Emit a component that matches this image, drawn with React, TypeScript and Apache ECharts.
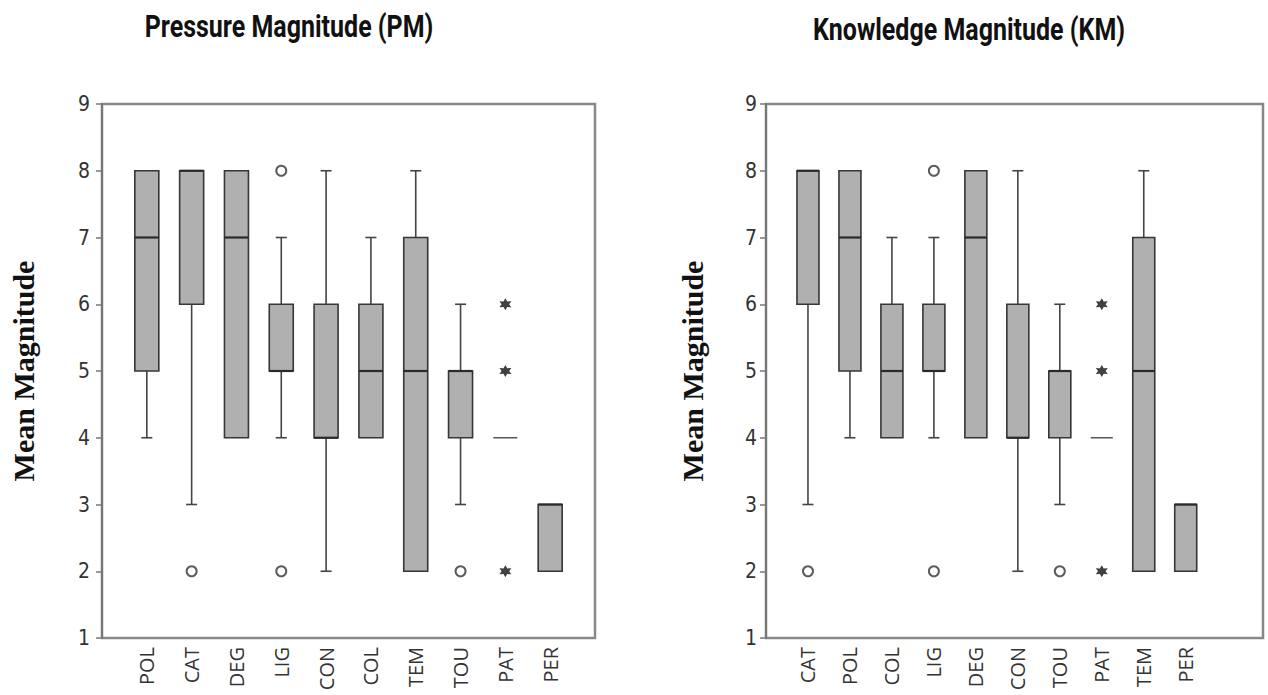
import React, { useEffect, useRef } from "react";
import * as echarts from "echarts";

// ---- Pressure Magnitude (PM) ----
const pmCategories = ["POL", "CAT", "DEG", "LIG", "CON", "COL", "TEM", "TOU", "PAT", "PER"];
const pmMin = [4, 3, 4, 4, 2, 4, 2, 3, 4, 2];
const pmQ1 = [5, 6, 4, 5, 4, 4, 2, 4, 4, 2];
const pmMedian = [7, 8, 7, 5, 4, 5, 5, 5, 4, 3];
const pmQ3 = [8, 8, 8, 6, 6, 6, 7, 5, 4, 3];
const pmMax = [8, 8, 8, 7, 8, 7, 8, 6, 4, 3];
const pmOutliers: [string, number][] = [["CAT", 2], ["LIG", 8], ["LIG", 2], ["TOU", 2]];
const pmExtremes: [string, number][] = [["PAT", 6], ["PAT", 5], ["PAT", 2]];

// ---- Knowledge Magnitude (KM) ----
const kmCategories = ["CAT", "POL", "COL", "LIG", "DEG", "CON", "TOU", "PAT", "TEM", "PER"];
const kmMin = [3, 4, 4, 4, 4, 2, 3, 4, 2, 2];
const kmQ1 = [6, 5, 4, 5, 4, 4, 4, 4, 2, 2];
const kmMedian = [8, 7, 5, 5, 7, 4, 5, 4, 5, 3];
const kmQ3 = [8, 8, 6, 6, 8, 6, 5, 4, 7, 3];
const kmMax = [8, 8, 7, 7, 8, 8, 6, 4, 8, 3];
const kmOutliers: [string, number][] = [["CAT", 2], ["LIG", 8], ["LIG", 2], ["TOU", 2]];
const kmExtremes: [string, number][] = [["PAT", 6], ["PAT", 5], ["PAT", 2]];

const yTicks = [1, 2, 3, 4, 5, 6, 7, 8, 9];

const STAR =
  "path://M10,0 L12.75,5.24 L18.66,5 L15.5,10 L18.66,15 L12.75,14.76 L10,20 L7.25,14.76 L1.34,15 L4.5,10 L1.34,5 L7.25,5.24 Z";

function boxData(mins: number[], q1: number[], med: number[], q3: number[], max: number[]) {
  return mins.map((_, i) => [i + 1, mins[i], q1[i], med[i], q3[i], max[i]]);
}
function pointData(cats: string[], pts: [string, number][]) {
  return pts.map(([c, v]) => [cats.indexOf(c) + 1, v]);
}

function makeRender(boxW: number, capW: number) {
  return (_params: any, api: any) => {
    const x = api.value(0);
    const vMin = api.value(1), vQ1 = api.value(2), vMed = api.value(3), vQ3 = api.value(4), vMax = api.value(5);
    const pMin = api.coord([x, vMin]);
    const pQ1 = api.coord([x, vQ1]);
    const pMed = api.coord([x, vMed]);
    const pQ3 = api.coord([x, vQ3]);
    const pMax = api.coord([x, vMax]);
    const cx = pMin[0];
    const wStyle = { stroke: "#444", lineWidth: 1.6 };
    const children: any[] = [];
    if (vMax > vQ3) {
      children.push({ type: "line", shape: { x1: cx, y1: pQ3[1], x2: cx, y2: pMax[1] }, style: wStyle });
      children.push({ type: "line", shape: { x1: cx - capW / 2, y1: pMax[1], x2: cx + capW / 2, y2: pMax[1] }, style: wStyle });
    }
    if (vMin < vQ1) {
      children.push({ type: "line", shape: { x1: cx, y1: pQ1[1], x2: cx, y2: pMin[1] }, style: wStyle });
      children.push({ type: "line", shape: { x1: cx - capW / 2, y1: pMin[1], x2: cx + capW / 2, y2: pMin[1] }, style: wStyle });
    }
    if (vQ3 > vQ1) {
      children.push({
        type: "rect",
        shape: { x: cx - boxW / 2, y: pQ3[1], width: boxW, height: pQ1[1] - pQ3[1] },
        style: { fill: "#b0b0b0", stroke: "#363636", lineWidth: 1.6 },
      });
      children.push({
        type: "line",
        shape: { x1: cx - boxW / 2, y1: pMed[1], x2: cx + boxW / 2, y2: pMed[1] },
        style: { stroke: "#2a2a2a", lineWidth: 2.2 },
      });
    } else {
      children.push({
        type: "line",
        shape: { x1: cx - boxW / 2, y1: pMed[1], x2: cx + boxW / 2, y2: pMed[1] },
        style: { stroke: "#555", lineWidth: 1.5 },
      });
    }
    return { type: "group", children };
  };
}

const tickFont = "'Liberation Sans Narrow', 'DejaVu Sans Condensed', Roboto, sans-serif";

function xAxisFor(cats: string[], gridIndex: number) {
  return {
    type: "category",
    gridIndex,
    data: ["", ...cats, ""],
    boundaryGap: false,
    axisLine: { show: false },
    axisTick: { show: false },
    axisLabel: {
      rotate: 90,
      margin: 9,
      color: "#333",
      fontSize: 20,
      fontFamily: "'Open Sans', sans-serif",
      interval: 0,
    },
    splitLine: { show: false },
  };
}

function yAxisFor(gridIndex: number, labelMargin: number, nameGap: number) {
  return {
    type: "value",
    gridIndex,
    min: yTicks[0],
    max: yTicks[yTicks.length - 1],
    interval: 1,
    name: "Mean Magnitude",
    nameLocation: "middle",
    nameGap,
    nameRotate: 90,
    nameTextStyle: {
      fontFamily: "'Liberation Serif', 'Times New Roman', serif",
      fontWeight: "bold",
      fontSize: 30,
      color: "#111",
    },
    axisLine: { show: true, lineStyle: { color: "#777", width: 2 } },
    axisTick: { show: true, length: 6, lineStyle: { color: "#777", width: 1.5 } },
    axisLabel: { margin: labelMargin, color: "#333", fontSize: 21, fontFamily: tickFont },
    splitLine: { show: false },
  };
}

export default function App() {
  const ref = useRef<HTMLDivElement>(null);
  useEffect(() => {
    document.body.style.margin = "0";
    if (!ref.current) return;
    const chart = echarts.init(ref.current, undefined, { renderer: "svg" });
    const option: any = {
      animation: false,
      backgroundColor: "#ffffff",
      grid: [
        { left: 102, top: 104, width: 493, height: 534 },
        { left: 766, top: 104, width: 461.7, height: 534 },
      ],
      xAxis: [xAxisFor(pmCategories, 0), xAxisFor(kmCategories, 1)],
      yAxis: [yAxisFor(0, 12, 64), yAxisFor(1, 9, 59)],
      graphic: [
        {
          type: "rect",
          shape: { x: 102, y: 104, width: 493, height: 534 },
          style: { fill: "none", stroke: "#888", lineWidth: 2.5 },
          z: 0,
        },
        {
          type: "rect",
          shape: { x: 766, y: 104, width: 497, height: 534 },
          style: { fill: "none", stroke: "#888", lineWidth: 2.5 },
          z: 0,
        },
        {
          type: "text",
          x: 289,
          y: 27,
          scaleY: 1.22,
          style: {
            text: "Pressure Magnitude (PM)",
            fontSize: 25,
            fontWeight: "bold",
            fontFamily: "Roboto, sans-serif",
            fill: "#111",
            textAlign: "center",
            textVerticalAlign: "middle",
          },
        },
        {
          type: "text",
          x: 969,
          y: 30,
          scaleY: 1.22,
          style: {
            text: "Knowledge Magnitude (KM)",
            fontSize: 25,
            fontWeight: "bold",
            fontFamily: "Roboto, sans-serif",
            fill: "#111",
            textAlign: "center",
            textVerticalAlign: "middle",
          },
        },
      ],
      series: [
        {
          type: "custom",
          xAxisIndex: 0,
          yAxisIndex: 0,
          renderItem: makeRender(24, 11),
          encode: { x: 0, y: [1, 2, 3, 4, 5] },
          data: boxData(pmMin, pmQ1, pmMedian, pmQ3, pmMax),
          z: 2,
        },
        {
          type: "scatter",
          xAxisIndex: 0,
          yAxisIndex: 0,
          symbol: "circle",
          symbolSize: 10,
          itemStyle: { color: "#fff", borderColor: "#333", borderWidth: 2 },
          data: pointData(pmCategories, pmOutliers),
          z: 3,
        },
        {
          type: "scatter",
          xAxisIndex: 0,
          yAxisIndex: 0,
          symbol: STAR,
          symbolSize: 12,
          itemStyle: { color: "#111" },
          data: pointData(pmCategories, pmExtremes),
          z: 3,
        },
        {
          type: "custom",
          xAxisIndex: 1,
          yAxisIndex: 1,
          renderItem: makeRender(22, 11),
          encode: { x: 0, y: [1, 2, 3, 4, 5] },
          data: boxData(kmMin, kmQ1, kmMedian, kmQ3, kmMax),
          z: 2,
        },
        {
          type: "scatter",
          xAxisIndex: 1,
          yAxisIndex: 1,
          symbol: "circle",
          symbolSize: 10,
          itemStyle: { color: "#fff", borderColor: "#333", borderWidth: 2 },
          data: pointData(kmCategories, kmOutliers),
          z: 3,
        },
        {
          type: "scatter",
          xAxisIndex: 1,
          yAxisIndex: 1,
          symbol: STAR,
          symbolSize: 12,
          itemStyle: { color: "#111" },
          data: pointData(kmCategories, kmExtremes),
          z: 3,
        },
      ],
    };
    chart.setOption(option);
    return () => chart.dispose();
  }, []);
  return <div ref={ref} style={{ width: 1268, height: 695 }} />;
}
